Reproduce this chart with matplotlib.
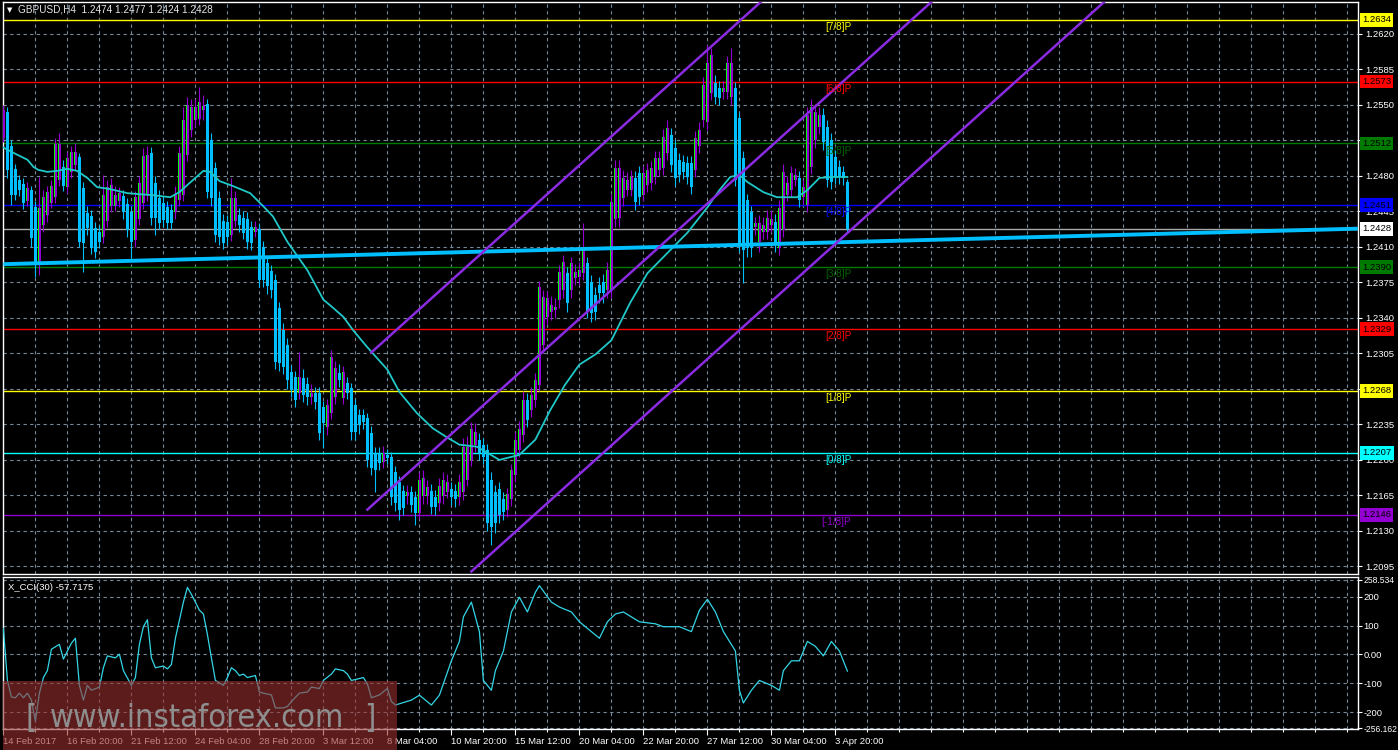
import matplotlib
matplotlib.use("Agg")
import matplotlib.pyplot as plt
import matplotlib.transforms as mtrans
from matplotlib.patches import Rectangle
from matplotlib import font_manager
import numpy as np

plt.rcParams["font.family"] = ["Liberation Sans", "DejaVu Sans"]
FS = 6.8

# ---- GBPUSD H4 candles ----
opens = [1.2517, 1.2543, 1.2510, 1.2487, 1.2476, 1.2472, 1.2455, 1.2466, 1.2449, 1.2392,
         1.2432, 1.2441, 1.2453, 1.2459, 1.2476, 1.2489, 1.2469, 1.2484, 1.2491, 1.2499,
         1.2468, 1.2443, 1.2440, 1.2429, 1.2425, 1.2420, 1.2436, 1.2450, 1.2450, 1.2455,
         1.2460, 1.2452, 1.2444, 1.2417, 1.2438, 1.2453, 1.2461, 1.2503, 1.2473, 1.2458,
         1.2453, 1.2449, 1.2446, 1.2444, 1.2456, 1.2461, 1.2501, 1.2525, 1.2535, 1.2536,
         1.2545, 1.2551, 1.2515, 1.2488, 1.2458, 1.2436, 1.2435, 1.2422, 1.2436, 1.2441,
         1.2439, 1.2438, 1.2430, 1.2425, 1.2428, 1.2410, 1.2394, 1.2386, 1.2377, 1.2350,
         1.2328, 1.2313, 1.2287, 1.2282, 1.2266, 1.2281, 1.2275, 1.2262, 1.2266, 1.2266,
         1.2252, 1.2232, 1.2246, 1.2262, 1.2286, 1.2261, 1.2276, 1.2271, 1.2254, 1.2244,
         1.2244, 1.2241, 1.2227, 1.2207, 1.2207, 1.2198, 1.2205, 1.2203, 1.2188, 1.2178,
         1.2169, 1.2164, 1.2168, 1.2163, 1.2148, 1.2164, 1.2164, 1.2169, 1.2163, 1.2158,
         1.2164, 1.2168, 1.2171, 1.2169, 1.2163, 1.2168, 1.2180, 1.2200, 1.2215, 1.2220,
         1.2215, 1.2210, 1.2180, 1.2168, 1.2171, 1.2161, 1.2151, 1.2161, 1.2185, 1.2210,
         1.2225, 1.2259, 1.2249, 1.2259, 1.2274, 1.2313, 1.2341, 1.2346, 1.2348, 1.2358,
         1.2368, 1.2384, 1.2368, 1.2379, 1.2380, 1.2384, 1.2394, 1.2375, 1.2363, 1.2372,
         1.2375, 1.2368, 1.2368, 1.2438, 1.2439, 1.2458, 1.2466, 1.2466, 1.2478, 1.2483,
         1.2461, 1.2471, 1.2473, 1.2479, 1.2486, 1.2488, 1.2503, 1.2520, 1.2508, 1.2496,
         1.2494, 1.2493, 1.2493, 1.2486, 1.2510, 1.2535, 1.2533, 1.2562, 1.2572, 1.2567,
         1.2563, 1.2563, 1.2558, 1.2567, 1.2537, 1.2498, 1.2456, 1.2444, 1.2430, 1.2415,
         1.2425, 1.2425, 1.2432, 1.2435, 1.2409, 1.2427, 1.2461, 1.2466, 1.2476, 1.2478,
         1.2459, 1.2451, 1.2489, 1.2515, 1.2528, 1.2540, 1.2528, 1.2515, 1.2499, 1.2489,
         1.2484, 1.2474]
closes = [1.2545, 1.2486, 1.2461, 1.2461, 1.2466, 1.2453, 1.2468, 1.2419, 1.2394, 1.2448,
          1.2459, 1.2464, 1.2470, 1.2511, 1.2511, 1.2470, 1.2498, 1.2504, 1.2504, 1.2415,
          1.2414, 1.2429, 1.2409, 1.2405, 1.2415, 1.2461, 1.2469, 1.2471, 1.2461, 1.2463,
          1.2444, 1.2427, 1.2415, 1.2459, 1.2473, 1.2500, 1.2501, 1.2439, 1.2439, 1.2434,
          1.2437, 1.2434, 1.2434, 1.2461, 1.2503, 1.2535, 1.2550, 1.2548, 1.2548, 1.2553,
          1.2549, 1.2464, 1.2458, 1.2422, 1.2420, 1.2414, 1.2420, 1.2458, 1.2458, 1.2432,
          1.2424, 1.2415, 1.2414, 1.2430, 1.2377, 1.2377, 1.2371, 1.2368, 1.2297, 1.2296,
          1.2292, 1.2279, 1.2269, 1.2259, 1.2282, 1.2264, 1.2262, 1.2266, 1.2257, 1.2227,
          1.2236, 1.2254, 1.2301, 1.2291, 1.2279, 1.2287, 1.2266, 1.2228, 1.2228, 1.2234,
          1.2237, 1.2200, 1.2192, 1.2190, 1.2197, 1.2207, 1.2202, 1.2163, 1.2158, 1.2151,
          1.2153, 1.2168, 1.2156, 1.2148, 1.2180, 1.2182, 1.2173, 1.2154, 1.2154, 1.2174,
          1.2180, 1.2178, 1.2163, 1.2161, 1.2178, 1.2213, 1.2213, 1.2230, 1.2228, 1.2207,
          1.2203, 1.2138, 1.2134, 1.2138, 1.2146, 1.2149, 1.2166, 1.2190, 1.2220, 1.2230,
          1.2259, 1.2239, 1.2264, 1.2279, 1.2370, 1.2361, 1.2360, 1.2353, 1.2351, 1.2385,
          1.2395, 1.2355, 1.2394, 1.2385, 1.2387, 1.2407, 1.2346, 1.2345, 1.2346, 1.2365,
          1.2365, 1.2387, 1.2454, 1.2488, 1.2488, 1.2478, 1.2476, 1.2479, 1.2454, 1.2459,
          1.2483, 1.2486, 1.2488, 1.2498, 1.2498, 1.2518, 1.2527, 1.2491, 1.2478, 1.2481,
          1.2484, 1.2479, 1.2469, 1.2517, 1.2525, 1.2570, 1.2591, 1.2599, 1.2558, 1.2557,
          1.2567, 1.2591, 1.2591, 1.2476, 1.2414, 1.2407, 1.2409, 1.2409, 1.2434, 1.2434,
          1.2432, 1.2439, 1.2438, 1.2412, 1.2448, 1.2484, 1.2473, 1.2483, 1.2481, 1.2456,
          1.2469, 1.2540, 1.2548, 1.2543, 1.2540, 1.2513, 1.2476, 1.2474, 1.2479, 1.2479,
          1.2478, 1.2428]
highs = [1.2550, 1.2548, 1.2515, 1.2492, 1.2481, 1.2478, 1.2474, 1.2470, 1.2455, 1.2479,
         1.2466, 1.2470, 1.2476, 1.2517, 1.2522, 1.2496, 1.2504, 1.2510, 1.2512, 1.2503,
         1.2474, 1.2450, 1.2446, 1.2435, 1.2432, 1.2481, 1.2476, 1.2478, 1.2470, 1.2469,
         1.2466, 1.2458, 1.2450, 1.2465, 1.2480, 1.2508, 1.2510, 1.2509, 1.2480, 1.2466,
         1.2460, 1.2455, 1.2452, 1.2470, 1.2510, 1.2548, 1.2558, 1.2556, 1.2556, 1.2568,
         1.2560, 1.2556, 1.2522, 1.2494, 1.2465, 1.2442, 1.2441, 1.2478, 1.2465, 1.2448,
         1.2445, 1.2444, 1.2436, 1.2436, 1.2434, 1.2416, 1.2400, 1.2392, 1.2383, 1.2356,
         1.2335, 1.2320, 1.2294, 1.2288, 1.2306, 1.2290, 1.2282, 1.2275, 1.2272, 1.2272,
         1.2258, 1.2260, 1.2308, 1.2298, 1.2295, 1.2293, 1.2282, 1.2276, 1.2260, 1.2250,
         1.2250, 1.2246, 1.2233, 1.2213, 1.2213, 1.2214, 1.2211, 1.2208, 1.2194, 1.2184,
         1.2175, 1.2175, 1.2174, 1.2169, 1.2188, 1.2190, 1.2180, 1.2176, 1.2170, 1.2182,
         1.2188, 1.2186, 1.2178, 1.2176, 1.2186, 1.2222, 1.2224, 1.2237, 1.2236, 1.2227,
         1.2222, 1.2216, 1.2188, 1.2175, 1.2178, 1.2168, 1.2172, 1.2196, 1.2228, 1.2238,
         1.2268, 1.2266, 1.2272, 1.2286, 1.2376, 1.2368, 1.2367, 1.2362, 1.2360, 1.2392,
         1.2402, 1.2390, 1.2400, 1.2393, 1.2395, 1.2434, 1.2400, 1.2382, 1.2370, 1.2380,
         1.2383, 1.2395, 1.2462, 1.2496, 1.2496, 1.2486, 1.2484, 1.2486, 1.2485, 1.2490,
         1.2490, 1.2493, 1.2495, 1.2505, 1.2505, 1.2526, 1.2535, 1.2527, 1.2515, 1.2503,
         1.2501, 1.2500, 1.2500, 1.2524, 1.2533, 1.2578, 1.2609, 1.2606, 1.2580, 1.2574,
         1.2574, 1.2598, 1.2606, 1.2573, 1.2543, 1.2505, 1.2462, 1.2450, 1.2440, 1.2441,
         1.2440, 1.2446, 1.2446, 1.2442, 1.2456, 1.2492, 1.2480, 1.2490, 1.2488, 1.2485,
         1.2476, 1.2548, 1.2556, 1.2551, 1.2548, 1.2547, 1.2535, 1.2522, 1.2506, 1.2496,
         1.2490, 1.2477]
lows = [1.2513, 1.2478, 1.2451, 1.2456, 1.2460, 1.2447, 1.2450, 1.2410, 1.2380, 1.2382,
        1.2425, 1.2435, 1.2448, 1.2453, 1.2470, 1.2465, 1.2463, 1.2478, 1.2486, 1.2410,
        1.2385, 1.2422, 1.2403, 1.2399, 1.2409, 1.2414, 1.2430, 1.2444, 1.2445, 1.2449,
        1.2438, 1.2420, 1.2399, 1.2410, 1.2432, 1.2447, 1.2455, 1.2432, 1.2422, 1.2428,
        1.2430, 1.2428, 1.2428, 1.2438, 1.2450, 1.2455, 1.2495, 1.2518, 1.2528, 1.2530,
        1.2535, 1.2458, 1.2450, 1.2415, 1.2412, 1.2408, 1.2412, 1.2416, 1.2430, 1.2425,
        1.2418, 1.2408, 1.2407, 1.2420, 1.2370, 1.2370, 1.2364, 1.2360, 1.2290, 1.2288,
        1.2285, 1.2270, 1.2262, 1.2252, 1.2260, 1.2257, 1.2254, 1.2255, 1.2250, 1.2220,
        1.2212, 1.2225, 1.2240, 1.2255, 1.2272, 1.2255, 1.2260, 1.2220, 1.2220, 1.2226,
        1.2230, 1.2193, 1.2185, 1.2168, 1.2190, 1.2192, 1.2196, 1.2156, 1.2150, 1.2141,
        1.2146, 1.2157, 1.2149, 1.2136, 1.2142, 1.2157, 1.2157, 1.2147, 1.2146, 1.2150,
        1.2157, 1.2162, 1.2156, 1.2154, 1.2156, 1.2160, 1.2174, 1.2194, 1.2208, 1.2200,
        1.2196, 1.2130, 1.2116, 1.2128, 1.2138, 1.2141, 1.2144, 1.2155, 1.2178, 1.2203,
        1.2218, 1.2232, 1.2242, 1.2252, 1.2268, 1.2305, 1.2334, 1.2338, 1.2340, 1.2350,
        1.2360, 1.2346, 1.2360, 1.2372, 1.2372, 1.2377, 1.2340, 1.2336, 1.2338, 1.2355,
        1.2355, 1.2360, 1.2360, 1.2430, 1.2430, 1.2450, 1.2460, 1.2460, 1.2446, 1.2451,
        1.2455, 1.2464, 1.2466, 1.2472, 1.2480, 1.2481, 1.2496, 1.2484, 1.2470, 1.2474,
        1.2477, 1.2472, 1.2462, 1.2479, 1.2503, 1.2528, 1.2525, 1.2555, 1.2551, 1.2550,
        1.2556, 1.2556, 1.2550, 1.2470, 1.2405, 1.2374, 1.2400, 1.2400, 1.2422, 1.2405,
        1.2418, 1.2418, 1.2425, 1.2405, 1.2402, 1.2420, 1.2455, 1.2459, 1.2470, 1.2449,
        1.2452, 1.2444, 1.2482, 1.2508, 1.2521, 1.2506, 1.2469, 1.2467, 1.2472, 1.2472,
        1.2471, 1.2424]

# moving average (thin teal line), sampled points
ma_bars = [0, 3.4, 6, 7.5, 8.7, 11, 13.4, 16, 18.4, 21, 23.4, 26.7, 31, 34, 37.4, 41.7,
           44, 47.4, 50, 51.7, 54, 57.4, 61.7, 65, 67.4, 71, 76, 80, 82.4, 85, 87.4, 91,
           96, 99, 103.4, 107.4, 111, 114, 118.4, 121, 124, 129, 133, 136.7, 140.4, 144,
           148, 152, 156.7, 161, 166, 171, 176, 179, 181.7, 184, 186, 190, 193.4, 198.4,
           201, 204, 207.4, 211]
ma_vals = [1.2508, 1.2501, 1.2496, 1.2489, 1.2486, 1.2484, 1.2485, 1.2487, 1.2485, 1.2478,
           1.2469, 1.2467, 1.2463, 1.2462, 1.2461, 1.2459, 1.2464, 1.2476, 1.2485, 1.2484,
           1.2475, 1.2470, 1.2463, 1.2450, 1.2440, 1.2415, 1.2387, 1.2358, 1.2350, 1.2341,
           1.2328, 1.2311, 1.2289, 1.2267, 1.2246, 1.2231, 1.2222, 1.2215, 1.2213, 1.2207,
           1.2200, 1.2205, 1.2220, 1.2249, 1.2274, 1.2294, 1.2304, 1.2318, 1.2355, 1.2384,
           1.2404, 1.2424, 1.2449, 1.2466, 1.2479, 1.2481, 1.2474, 1.2464, 1.2459, 1.2459,
           1.2466, 1.2478, 1.2479, 1.2479]

# CCI(30)
cci_bars = [0, 1, 2, 3, 4, 5, 6, 7, 8, 9, 10, 11, 12, 14, 15, 17, 18, 19, 20, 21,
            22, 24, 25, 26, 28, 29, 30, 32, 33, 34, 35, 36, 37, 38, 40, 41, 42, 43, 45, 46,
            47, 48, 49, 50, 51, 52, 53, 55, 56, 57, 58, 59, 60, 61, 63, 64, 65, 67, 68, 70,
            71, 72, 74, 76, 77, 79, 80, 82, 83, 85, 86, 87, 90, 91, 92, 94, 96, 97, 98, 102,
            104, 107, 109, 112, 114, 115, 117, 119, 120, 122, 123, 125, 127, 129, 131, 133, 134, 137, 139, 142,
            144, 147, 149, 151, 153, 155, 159, 163, 165, 169, 172, 174, 176, 178, 180, 183, 184, 185, 187, 189,
            192, 194, 195, 197, 199, 201, 203, 205, 207, 209, 211]
cci_vals = [90, -90, -147, -150, -134, -150, -134, -158, -231, -134, -80, -56, 18, 35, -16, 39, 56, -107, -158, -107,
            -124, -113, -46, -5, -12, 1, -56, -107, -80, 35, 96, 120, -12, -46, -40, -50, -35, 56, 181, 232,
            208, 181, 153, 140, 69, -12, -90, -107, -80, -46, -56, -73, -68, -80, -73, -130, -134, -140, -185, -185,
            -180, -163, -134, -130, -113, -118, -90, -68, -50, -56, -68, -90, -80, -102, -150, -140, -118, -163, -175, -158,
            -141, -175, -141, -22, 45, 130, 181, 79, -90, -124, -56, 12, 147, 198, 147, 215, 238, 181, 164, 147,
            113, 79, 56, 113, 140, 147, 113, 106, 96, 96, 79, 153, 191, 147, 79, 12, -124, -168, -124, -90,
            -107, -124, -56, -22, -22, 45, 28, -5, 45, 12, -57.7175]

# Murrey math levels
murrey_names = ["[7/8]P", "[6/8]P", "[5/8]P", "[4/8]P", "[3/8]P", "[2/8]P", "[1/8]P", "[0/8]P", "[-1/8]P"]
murrey_levels = [1.2634, 1.2573, 1.2512, 1.2451, 1.2390, 1.2329, 1.2268, 1.2207, 1.2146]
murrey_colors = ["#ffff00", "#ff0000", "#007a00", "#0000ff", "#007a00", "#ff0000", "#ffff00", "#00ffff", "#9400d3"]
murrey_text = ["#ffff00", "#ff0000", "#006400", "#0000ff", "#006400", "#ff0000", "#ffff00", "#00ffff", "#9400d3"]

# trend channel (bar, price) anchors
chan_start = [(92, 1.2306), (91, 1.2151), (117, 1.2090)]
chan_slope = 0.000355
trend_pts = [(0, 1.2393), (338.6, 1.2428)]
bid = 1.2428

price_ticks = [1.2620, 1.2585, 1.2550, 1.2515, 1.2480, 1.2445, 1.2410, 1.2375, 1.2340,
               1.2305, 1.2270, 1.2235, 1.2200, 1.2165, 1.2130, 1.2095]
hidden_ticks = [1.2515, 1.2270]   # covered by the level boxes
date_labels = ["14 Feb 2017", "16 Feb 20:00", "21 Feb 12:00", "24 Feb 04:00", "28 Feb 20:00",
               "3 Mar 12:00", "8 Mar 04:00", "10 Mar 20:00", "15 Mar 12:00", "20 Mar 04:00",
               "22 Mar 20:00", "27 Mar 12:00", "30 Mar 04:00", "3 Apr 20:00"]

PURPLE = "#9400d3"
BLUE = "#00bfff"
LIME = "#00ff00"
GRID = "#778899"

o = np.array(opens); c = np.array(closes); h = np.array(highs); l = np.array(lows)
n = len(c)
bars = np.arange(n)
XMAX = 338.65

fig = plt.figure(figsize=(13.98, 7.5), dpi=100, facecolor="black")
ax = fig.add_axes([3/1398, 1-574/750, 1355/1398, 572/750], facecolor="black")
ax2 = fig.add_axes([3/1398, 1-729/750, 1355/1398, 152/750], facecolor="black")

for a in (ax, ax2):
    for s in a.spines.values():
        s.set_color("white")
        s.set_linewidth(1)
    a.set_xlim(-0.1, XMAX)
    a.grid(True, which="both", color=GRID, ls=(0, (3, 3)), lw=0.8)
    a.set_axisbelow(True)
    a.yaxis.tick_right()
    a.tick_params(axis="y", colors="white", labelsize=FS, length=3, width=0.8, pad=2, direction="out")

# main price panel
ax.set_ylim(1.20875, 1.26515)
ax.set_xticks(np.arange(8, XMAX, 8))
ax.tick_params(axis="x", length=0, labelbottom=False)
ax.set_yticks(price_ticks)
ax.set_yticklabels(["" if p in hidden_ticks else "%.4f" % p for p in price_ticks])

for lev, col in zip(murrey_levels, murrey_colors):
    ax.axhline(lev, color=col, lw=1.0, zorder=1)
for lev, name, col in zip(murrey_levels, murrey_names, murrey_text):
    ax.annotate(name, xy=(212, lev), xytext=(0, -1.5), textcoords="offset points",
                ha="right", va="top", color=col, fontsize=7.2, zorder=6)
ax.axhline(bid, color="#a9a9a9", lw=1.0, zorder=1.5)

# candles
up = c >= o
col = np.where(up, PURPLE, BLUE)
ax.vlines(bars, l, h, colors=col, lw=0.8, zorder=3)
body = np.maximum(np.abs(c - o), 0.00009)
bot = np.minimum(o, c)
ax.bar(bars[~up], body[~up], bottom=bot[~up], width=0.75, color=BLUE, lw=0, zorder=3.2)
ax.bar(bars[up] - 0.25, body[up], bottom=bot[up], width=0.26, color=LIME, lw=0, zorder=3.2)
ax.bar(bars[up] + 0.125, body[up], bottom=bot[up], width=0.5, color=PURPLE, lw=0, zorder=3.2)

ax.plot(ma_bars, ma_vals, color="#20c8c8", lw=1.3, zorder=4)
tx, ty = zip(*trend_pts)
ax.plot(tx, ty, color="#00bfff", lw=2.8, zorder=4.5, solid_capstyle="butt")
for b0, p0 in chan_start:
    ax.plot([b0, XMAX], [p0, p0 + chan_slope*(XMAX - b0)], color="#8a2be2", lw=1.8, zorder=4.6)

blend = mtrans.blended_transform_factory(ax.transAxes, ax.transData)
for lev, colr in zip(murrey_levels, murrey_colors):
    ax.text(1.0 + 4/1355, lev, "%.4f" % lev, transform=blend, ha="left", va="center",
            fontsize=FS, color="black", clip_on=False, zorder=10,
            bbox=dict(boxstyle="square,pad=0.25", fc=colr, ec="none"))
ax.text(1.0 + 4/1355, bid, "%.4f" % bid, transform=blend, ha="left", va="center",
        fontsize=FS, color="black", clip_on=False, zorder=10,
        bbox=dict(boxstyle="square,pad=0.25", fc="white", ec="none"))

# CCI panel
ax2.set_ylim(-258, 268)
cci_ticks = [258.534, 200, 100, 0, -100, -200, -256.162]
ax2.set_yticks(cci_ticks)
ax2.set_yticklabels(["258.534", "200", "100", "0.00", "-100", "-200", "-256.162"])
ax2.tick_params(axis="y", pad=1)
for t in ax2.get_yticklabels():
    if "." in t.get_text() and t.get_text() != "0.00":
        t.set_fontsize(6.2)
ax2.plot(cci_bars, cci_vals, color="#33d6e6", lw=0.9, zorder=3)
ax2.set_xticks(np.arange(0, 16*len(date_labels), 16))
ax2.set_xticklabels(date_labels)
ax2.set_xticks(np.arange(8, XMAX, 8), minor=True)
ax2.tick_params(axis="x", which="major", colors="white", labelsize=FS, length=4, width=0.8, pad=2)
ax2.tick_params(axis="x", which="minor", colors="white", length=2, width=0.8)
for t in ax2.get_xticklabels():
    t.set_ha("left")
ax2.text(0.004, 0.96, "X_CCI(30) -57.7175", transform=ax2.transAxes, ha="left", va="top",
         color="white", fontsize=FS)

# header
fig.text(18/1398, 1-10/750, "GBPUSD,H4  1.2474 1.2477 1.2424 1.2428", color="#e6e6e6",
         fontsize=7.2, va="center", ha="left")
fig.text(7/1398, 1-10/750, "\u25bc", color="white", fontsize=5, va="center", ha="left",
         family=["DejaVu Sans"])

# watermark
fig.add_artist(Rectangle((3/1398, 0), 394/1398, 69/750, transform=fig.transFigure,
                         fc="#9a3030", ec="none", alpha=0.6, zorder=5))
narrow = None
for f in font_manager.fontManager.ttflist:
    fn = f.fname.lower()
    if ("narrow" in fn or "condensed" in fn) and "bold" not in fn and "italic" not in fn \
            and "oblique" not in fn and "mono" not in fn and "serif" not in fn.replace("sans", ""):
        narrow = f.fname
        break
if narrow:
    wm_prop = font_manager.FontProperties(fname=narrow)
    target_w = 294
else:
    wm_prop = font_manager.FontProperties(family="Liberation Sans")
    target_w = 305
wm = fig.text(50/1398, 1-727/750, "www.instaforex.com", fontproperties=wm_prop, color="#8e8e8e",
              va="baseline", ha="left", zorder=6)
wm.set_fontsize(30)
fig.canvas.draw()
w = wm.get_window_extent().width
wfs = 30*target_w/w
wm.set_fontsize(wfs)
for xx, s in ((25, "["), (364, "]")):
    t = fig.text(xx/1398, 1-727/750, s, fontproperties=wm_prop, color="#8e8e8e",
                 va="baseline", ha="left", zorder=6)
    t.set_fontsize(wfs)

fig.savefig("out.png", dpi=100, facecolor="black")
